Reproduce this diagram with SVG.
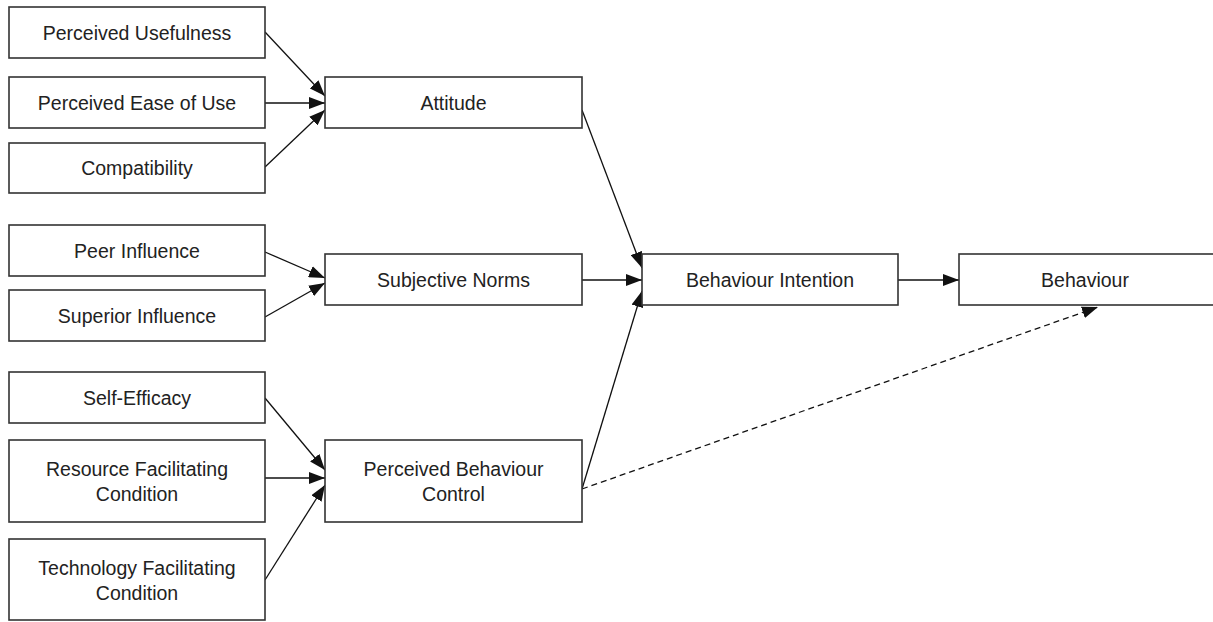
<svg xmlns="http://www.w3.org/2000/svg" width="1213" height="622" viewBox="0 0 1213 622">
<defs>
<style>
.box{fill:#fff;stroke:#333;stroke-width:1.6}
.t{font-family:"Liberation Sans",Arial,sans-serif;font-size:19.5px;fill:#222;text-anchor:middle}
.c{fill:none;stroke:#111;stroke-width:1.3}
.d{stroke-dasharray:6,4}
</style>
<marker id="ah" markerUnits="userSpaceOnUse" markerWidth="16" markerHeight="12" refX="16" refY="6" orient="auto">
<path d="M0,0 L16,6 L0,12 z" fill="#111"/>
</marker>
</defs>
<rect width="1213" height="622" fill="#fff"/>
<g id="connectors">
<line class="c" x1="265" y1="32" x2="325" y2="96" marker-end="url(#ah)"/>
<line class="c" x1="265" y1="103" x2="325" y2="103" marker-end="url(#ah)"/>
<line class="c" x1="265" y1="167" x2="325" y2="110" marker-end="url(#ah)"/>
<line class="c" x1="265" y1="252" x2="325" y2="278" marker-end="url(#ah)"/>
<line class="c" x1="265" y1="317" x2="325" y2="283" marker-end="url(#ah)"/>
<line class="c" x1="265" y1="398" x2="325" y2="470" marker-end="url(#ah)"/>
<line class="c" x1="265" y1="478" x2="325" y2="478" marker-end="url(#ah)"/>
<line class="c" x1="265" y1="580" x2="325" y2="485" marker-end="url(#ah)"/>
<line class="c" x1="582" y1="110" x2="642" y2="268" marker-end="url(#ah)"/>
<line class="c" x1="582" y1="280" x2="642" y2="280" marker-end="url(#ah)"/>
<line class="c" x1="582" y1="489" x2="642" y2="291" marker-end="url(#ah)"/>
<line class="c" x1="898" y1="280" x2="959" y2="280" marker-end="url(#ah)"/>
<line class="c d" x1="582" y1="489" x2="1098" y2="307" marker-end="url(#ah)"/>
</g>
<g id="perceived-usefulness"><rect class="box" x="9" y="7" width="256" height="51"/><text class="t" x="137" y="40">Perceived Usefulness</text></g>
<g id="perceived-ease"><rect class="box" x="9" y="77" width="256" height="51"/><text class="t" x="137" y="110">Perceived Ease of Use</text></g>
<g id="compatibility"><rect class="box" x="9" y="143" width="256" height="50"/><text class="t" x="137" y="175">Compatibility</text></g>
<g id="peer-influence"><rect class="box" x="9" y="225" width="256" height="51"/><text class="t" x="137" y="258">Peer Influence</text></g>
<g id="superior-influence"><rect class="box" x="9" y="290" width="256" height="51"/><text class="t" x="137" y="323">Superior Influence</text></g>
<g id="self-efficacy"><rect class="box" x="9" y="372" width="256" height="51"/><text class="t" x="137" y="405">Self-Efficacy</text></g>
<g id="resource-facilitating"><rect class="box" x="9" y="440" width="256" height="82"/><text class="t" x="137" y="476">Resource Facilitating</text><text class="t" x="137" y="501">Condition</text></g>
<g id="technology-facilitating"><rect class="box" x="9" y="539" width="256" height="81"/><text class="t" x="137" y="575">Technology Facilitating</text><text class="t" x="137" y="600">Condition</text></g>
<g id="attitude"><rect class="box" x="325" y="77" width="257" height="51"/><text class="t" x="453.5" y="109.5">Attitude</text></g>
<g id="subjective-norms"><rect class="box" x="325" y="254" width="257" height="51"/><text class="t" x="453.5" y="287">Subjective Norms</text></g>
<g id="perceived-behaviour-control"><rect class="box" x="325" y="440" width="257" height="82"/><text class="t" x="453.5" y="476">Perceived Behaviour</text><text class="t" x="453.5" y="501">Control</text></g>
<g id="behaviour-intention"><rect class="box" x="642" y="254" width="256" height="51"/><text class="t" x="770" y="287">Behaviour Intention</text></g>
<g id="behaviour"><rect class="box" x="959" y="254" width="256" height="51"/><text class="t" x="1085" y="287">Behaviour</text></g>
</svg>
